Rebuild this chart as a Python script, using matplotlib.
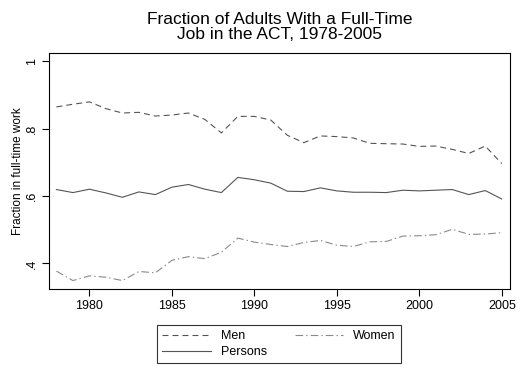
import matplotlib
matplotlib.use("Agg")
import matplotlib.pyplot as plt
import numpy as np

plt.rcParams['font.family'] = ['Liberation Sans', 'DejaVu Sans']
plt.rcParams['lines.scale_dashes'] = False

years = np.arange(1978, 2006)
men = [0.864, 0.872, 0.879, 0.859, 0.846, 0.848, 0.837, 0.840, 0.846, 0.827,
       0.787, 0.836, 0.836, 0.825, 0.780, 0.758, 0.778, 0.776, 0.772, 0.756,
       0.755, 0.754, 0.747, 0.748, 0.738, 0.726, 0.748, 0.696]
women = [0.377, 0.349, 0.363, 0.359, 0.349, 0.376, 0.372, 0.409, 0.420, 0.414,
         0.433, 0.475, 0.463, 0.456, 0.450, 0.462, 0.468, 0.454, 0.450, 0.464,
         0.465, 0.481, 0.482, 0.485, 0.501, 0.486, 0.487, 0.491]
persons = [0.619, 0.610, 0.620, 0.609, 0.596, 0.612, 0.604, 0.626, 0.634, 0.620,
           0.610, 0.655, 0.648, 0.638, 0.614, 0.613, 0.624, 0.615, 0.611, 0.611,
           0.610, 0.617, 0.615, 0.617, 0.619, 0.604, 0.616, 0.591]

xticks = [1980, 1985, 1990, 1995, 2000, 2005]
yticks = [0.4, 0.6, 0.8, 1.0]
ytick_labels = ['.4', '.6', '.8', '1']

W, H = 529, 377
fig = plt.figure(figsize=(W / 100, H / 100), dpi=100)
ax = fig.add_axes([49 / W, 1 - 289 / H, (510 - 49) / W, (289 - 53) / H])

l_men, = ax.plot(years, men, color='#555555', lw=0.8, linestyle=(0, (4.3, 2.9)), label='Men')
l_pers, = ax.plot(years, persons, color='#555555', lw=0.8, label='Persons')
l_wom, = ax.plot(years, women, color='#8a8a8a', lw=0.8, linestyle=(0, (5.5, 2.2, 1.0, 2.2)), label='Women')

ax.set_xlim(1977.55, 2005.5)
ax.set_ylim(0.324, 1.024)
ax.set_xticks(xticks)
ax.set_yticks(yticks)
ax.set_yticklabels(ytick_labels, rotation=90, va='center')
ax.tick_params(direction='out', length=5, width=0.8, labelsize=9, pad=3)
for s in ax.spines.values():
    s.set_linewidth(0.8)

ax.set_ylabel('Fraction in full-time work', fontsize=8.5, labelpad=1)
ax.set_title('Fraction of Adults With a Full-Time\nJob in the ACT, 1978-2005',
             fontsize=12.5, pad=10, linespacing=1.0)

leg = fig.legend([l_men, l_pers, l_wom], ['Men', 'Persons', 'Women'],
                 ncol=2, loc='upper center', bbox_to_anchor=(279 / W, 1 - 319 / H),
                 fontsize=9, frameon=True, fancybox=False, edgecolor='black',
                 handlelength=3.9, handletextpad=0.8, columnspacing=2.2,
                 labelspacing=0.3, borderpad=0.4)
leg.get_frame().set_linewidth(0.8)

fig.savefig('out.png', dpi=100, facecolor='white')
